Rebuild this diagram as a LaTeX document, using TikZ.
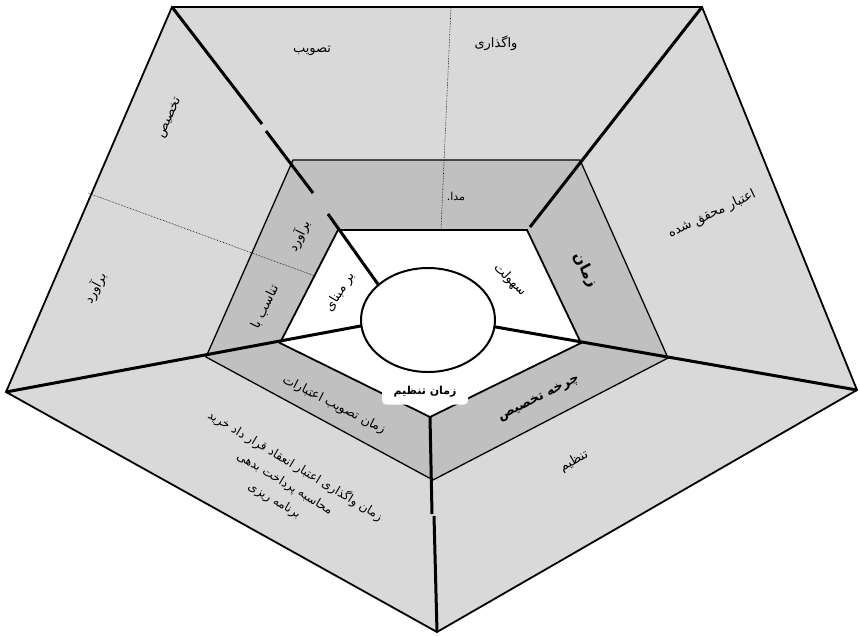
\documentclass[tikz,border=0pt]{standalone}
\usepackage{fontspec}
\usetikzlibrary{shapes.geometric}
\TeXXeTstate=1
\newfontfamily\arabicfont[Script=Arabic]{DejaVu Sans}
\definecolor{outerg}{HTML}{D9D9D9}
\definecolor{bandg}{HTML}{C0C0C0}
\begin{document}
\begin{tikzpicture}[x=1pt,y=-1pt,
  lbl/.style={font=\arabicfont\fontsize{13}{15}\selectfont, inner sep=1pt},
  lblb/.style={font=\arabicfont\bfseries\fontsize{13}{15}\selectfont, inner sep=1pt},
  spoke/.style={line width=3pt, line cap=butt},
  edgeline/.style={line width=1.8pt, line join=miter},
  bandline/.style={line width=1.3pt, line join=miter},
  dots/.style={densely dotted, line width=0.6pt}]
\useasboundingbox (0,0) rectangle (860,635);
% vertices
\coordinate (O1) at (172,7);
\coordinate (O2) at (702,7);
\coordinate (O3) at (857,390);
\coordinate (O4) at (437,632);
\coordinate (O5) at (6,392);
\coordinate (M1) at (293,160);
\coordinate (M2) at (580,160);
\coordinate (M3) at (668,358);
\coordinate (M4) at (433,480);
\coordinate (M5) at (206,357);
\coordinate (I1) at (338,230);
\coordinate (I2) at (527,230);
\coordinate (I3) at (581,343);
\coordinate (I4) at (430,417);
\coordinate (I5) at (280,343);
% fills
\fill[outerg] (O1)--(O2)--(O3)--(O4)--(O5)--cycle;
\fill[bandg] (M1)--(M2)--(M3)--(M4)--(M5)--cycle;
\fill[white] (I1)--(I2)--(I3)--(I4)--(I5)--cycle;
% dotted dividers
\coordinate (DT1) at (451,7);
\coordinate (DT2) at (441,229);
\coordinate (DL1) at (88,193);
\coordinate (DL2) at (315,276);
\draw[dots] (DT1)--(DT2);
\draw[dots] (DL1)--(DL2);
% outlines
\draw[bandline] (M1)--(M2)--(M3)--(M4)--(M5)--cycle;
\draw[edgeline] (I1)--(I2)--(I3)--(I4)--(I5)--cycle;
\draw[edgeline] (O1)--(O2)--(O3)--(O4)--(O5)--cycle;
% spokes
\coordinate (S1a) at (262,124);
\coordinate (S1b) at (266,131);
\coordinate (S1c) at (313,193);
\coordinate (S1d) at (328,214);
\coordinate (C1) at (380,287);
\coordinate (S2e) at (530,227);
\coordinate (C3) at (490,326);
\coordinate (C5) at (366,325);
\coordinate (S4a) at (432,514);
\coordinate (S4b) at (434,516);
\draw[spoke] (O1)--(S1a);
\draw[spoke] (S1b)--(S1c);
\draw[spoke] (S1d)--(C1);
\draw[spoke] (O2)--(S2e);
\draw[spoke] (C3)--(O3);
\draw[spoke] (C5)--(O5);
\draw[spoke] (I4)--(S4a);
\draw[spoke] (S4b)--(O4);
% centre ellipse
\node[draw, line width=2pt, fill=white, ellipse, minimum width=134pt, minimum height=104pt, inner sep=0pt] (hub) at (428,320) {};
% bottom label box
\node[fill=white, rounded corners=4pt, minimum width=86pt, minimum height=25pt, inner sep=1pt,
      font=\arabicfont\bfseries\fontsize{11}{13}\selectfont] (tanzimbox) at (425,392) {\beginR زمان تنظیم\endR};
% labels
\node[lbl] (tasvib) at (312,51) {\beginR تصویب\endR};
\node[lbl] (vagozari) at (496,43) {\beginR واگذاری\endR};
\node[lbl, rotate=66] (takhsis) at (170,118) {\beginR تخصیص\endR};
\node[lbl, rotate=62] (baravordO) at (95,288) {\beginR برآورد\endR};
\node[lbl, rotate=25] (etebar) at (712,214) {\beginR اعتبار محقق شده\endR};
\node[lbl, font=\arabicfont\fontsize{11}{13}\selectfont] (mabda) at (456,196) {\beginR مدا.\endR};
\node[lbl, rotate=64] (baravordB) at (299,236) {\beginR برآورد\endR};
\node[lbl, rotate=64] (tanasob) at (265,307) {\beginR تناسب با\endR};
\node[lbl, rotate=58] (barmabna) at (340,292) {\beginR بر مبنای\endR};
\node[lbl, rotate=-45] (sohoolat) at (510,280) {\beginR سهولت\endR};
\node[lblb, font=\arabicfont\bfseries\fontsize{15}{17}\selectfont, rotate=-62] (zaman) at (585,270) {\beginR زمان\endR};
\node[lblb, rotate=27] (charkhe) at (539,399) {\beginR چرخه تخصیص\endR};
\node[lbl, rotate=30] (tanzim) at (574,461) {\beginR تنظیم\endR};
\node[lbl, rotate=-27, font=\arabicfont\fontsize{12.5}{15}\selectfont] (zamantasvib) at (334,405) {\beginR زمان تصویب اعتبارات\endR};
\node[lbl, rotate=-31, align=center, font=\arabicfont\fontsize{12}{20}\selectfont] (block) at (285,483)
  {\beginR زمان واگذاری اعتبار انعقاد قرار داد خرید\endR\\ \beginR محاسبه پرداخت بدهی\endR\\ \beginR برنامه ریزی\endR};
\end{tikzpicture}
\end{document}
